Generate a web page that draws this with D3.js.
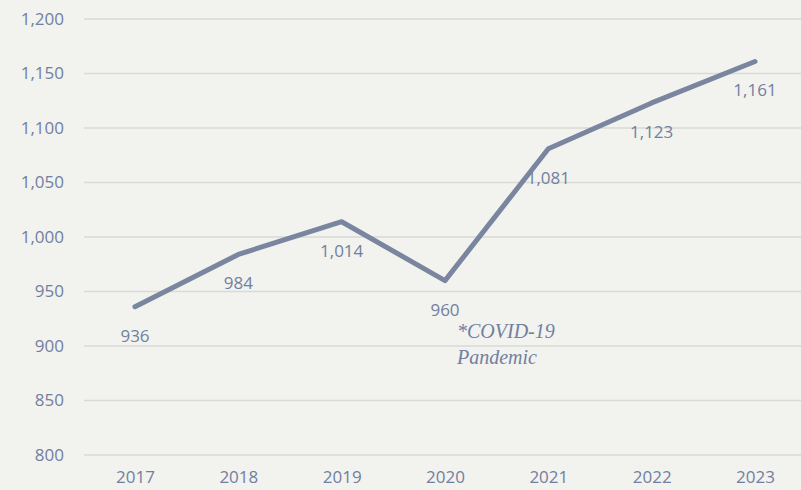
<!DOCTYPE html>
<html>
<head>
<meta charset="utf-8">
<script src="https://cdn.jsdelivr.net/npm/d3@7"></script>
<style>
  body { margin: 0; background: #f2f2ee; }
  svg { display: block; }
</style>
</head>
<body>
<script>
"use strict";

const years = ["2017", "2018", "2019", "2020", "2021", "2022", "2023"];
const values = [936, 984, 1014, 960, 1081, 1123, 1161];
const yTicks = [800, 850, 900, 950, 1000, 1050, 1100, 1150, 1200];
const noteLines = ["*COVID-19", "Pandemic"];

const width = 801, height = 490;
const textColor = "#7180a0";
const lineColor = "#7a86a0";

let svg = d3.select("body").append("svg")
  .attr("width", width)
  .attr("height", height);

let x = d3.scalePoint().domain(years).range([135, 755]);
let y = d3.scaleLinear().domain([800, 1200]).range([455, 19]);

// gridlines
svg.append("g")
  .selectAll("line")
  .data(yTicks)
  .enter()
  .append("line")
  .attr("x1", 84)
  .attr("x2", width)
  .attr("y1", d => y(d))
  .attr("y2", d => y(d))
  .attr("stroke", "#d9d9d6")
  .attr("stroke-width", 1.5);

// y axis labels
let yAxis = svg.append("g")
  .attr("transform", "translate(64,0)")
  .call(d3.axisLeft(y).tickValues(yTicks).tickSize(0).tickPadding(0).tickFormat(d3.format(",")));
yAxis.select(".domain").remove();
yAxis.selectAll("text")
  .attr("fill", textColor)
  .attr("font-family", "'Open Sans', sans-serif")
  .attr("font-size", 17);

// x axis labels (slightly clipped at the bottom in the original, kept inside here)
let xAxis = svg.append("g")
  .attr("transform", "translate(0,471)")
  .call(d3.axisBottom(x).tickSize(0).tickPadding(0));
xAxis.select(".domain").remove();
xAxis.selectAll("text")
  .attr("fill", textColor)
  .attr("font-family", "'Open Sans', sans-serif")
  .attr("font-size", 17);

// line
let line = d3.line()
  .x((d, i) => x(years[i]))
  .y(d => y(d));

svg.append("path")
  .datum(values)
  .attr("d", line)
  .attr("fill", "none")
  .attr("stroke", lineColor)
  .attr("stroke-width", 5)
  .attr("stroke-linejoin", "round")
  .attr("stroke-linecap", "round");

// data labels
svg.append("g")
  .selectAll("text")
  .data(values)
  .enter()
  .append("text")
  .attr("x", (d, i) => x(years[i]))
  .attr("y", d => y(d) + 29)
  .attr("dy", "0.35em")
  .attr("text-anchor", "middle")
  .attr("fill", textColor)
  .attr("font-family", "'Open Sans', sans-serif")
  .attr("font-size", 17)
  .text(d3.format(","));

// covid note
svg.append("g")
  .selectAll("text")
  .data(noteLines)
  .enter()
  .append("text")
  .attr("x", x("2020") + 12)
  .attr("y", (d, i) => y(960) + 57 + i * 26)
  .attr("fill", textColor)
  .attr("font-family", "'Liberation Serif', serif")
  .attr("font-style", "italic")
  .attr("font-size", 20)
  .text(d => d);
</script>
</body>
</html>
